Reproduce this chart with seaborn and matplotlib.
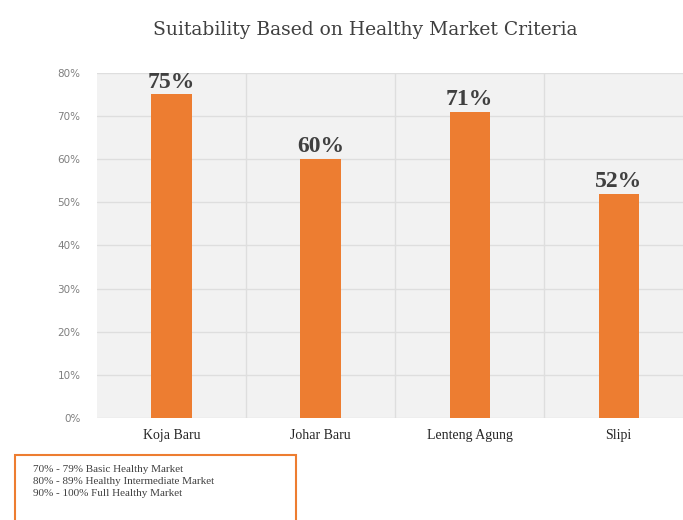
import matplotlib
matplotlib.use("Agg")
import matplotlib.pyplot as plt
import seaborn as sns
import pandas as pd
from matplotlib.patches import Rectangle
from matplotlib.ticker import FixedLocator

markets = ["Koja Baru", "Johar Baru", "Lenteng Agung", "Slipi"]
suitability = [75, 60, 71, 52]
y_ticks = [0, 10, 20, 30, 40, 50, 60, 70, 80]
y_tick_labels = ["0%", "10%", "20%", "30%", "40%", "50%", "60%", "70%", "80%"]
legend_lines = ["70% - 79% Basic Healthy Market",
                "80% - 89% Healthy Intermediate Market",
                "90% - 100% Full Healthy Market"]
title = "Suitability Based on Healthy Market Criteria"

sns.set_theme(style="white")
plt.rcParams['font.family'] = ['DejaVu Sans']

df = pd.DataFrame({"market": markets, "value": suitability})

fig = plt.figure(figsize=(6.83, 5.2), dpi=100)
ax = fig.add_axes([0.142, 0.196, 0.873, 0.664])
ax.set_facecolor("#f2f2f2")

sns.barplot(data=df, x="market", y="value", color="#ED7D31", width=0.27,
            saturation=1, ax=ax, zorder=3, edgecolor="none", linewidth=0)

ax.set_ylim(0, 80)
ax.set_xlim(-0.5, 3.5)
ax.set_yticks(y_ticks)
ax.set_yticklabels(y_tick_labels, fontsize=7.5, color="#7f7f7f",
                   family="DejaVu Sans")
ax.yaxis.grid(True, color="#dedede", linewidth=1, zorder=0)
ax.xaxis.set_minor_locator(FixedLocator([0.5, 1.5, 2.5]))
ax.xaxis.grid(True, which="minor", color="#dedede", linewidth=1, zorder=0)
ax.set_axisbelow(True)
ax.tick_params(axis="x", which="both", length=0, pad=8)
ax.tick_params(axis="y", length=0, pad=12)
for lbl in ax.get_xticklabels():
    lbl.set_family("Liberation Serif")
    lbl.set_fontsize(10)
    lbl.set_color("#262626")
ax.set_xlabel("")
ax.set_ylabel("")
for s in ax.spines.values():
    s.set_visible(False)

for i, v in enumerate(suitability):
    ax.text(i, v + 0.4, f"{v}%", ha="center", va="bottom",
            fontsize=17, fontweight="bold", color="#404040",
            family="Liberation Serif", zorder=4)

fig.text(0.535, 0.942, title, ha="center", va="center", fontsize=13.5,
         color="#404040", family="DejaVu Serif")

rect = Rectangle((15 / 683, -0.02), 281 / 683, (520 - 455) / 520 + 0.02,
                 transform=fig.transFigure, fill=False,
                 edgecolor="#ED7D31", linewidth=1.5)
fig.patches.append(rect)
for k, line in enumerate(legend_lines):
    fig.text(33 / 683, 1 - (469 + k * 12.5) / 520, line, ha="left",
             va="center", fontsize=8, color="#404040",
             family="Liberation Serif")

fig.savefig("out.png", dpi=100)
